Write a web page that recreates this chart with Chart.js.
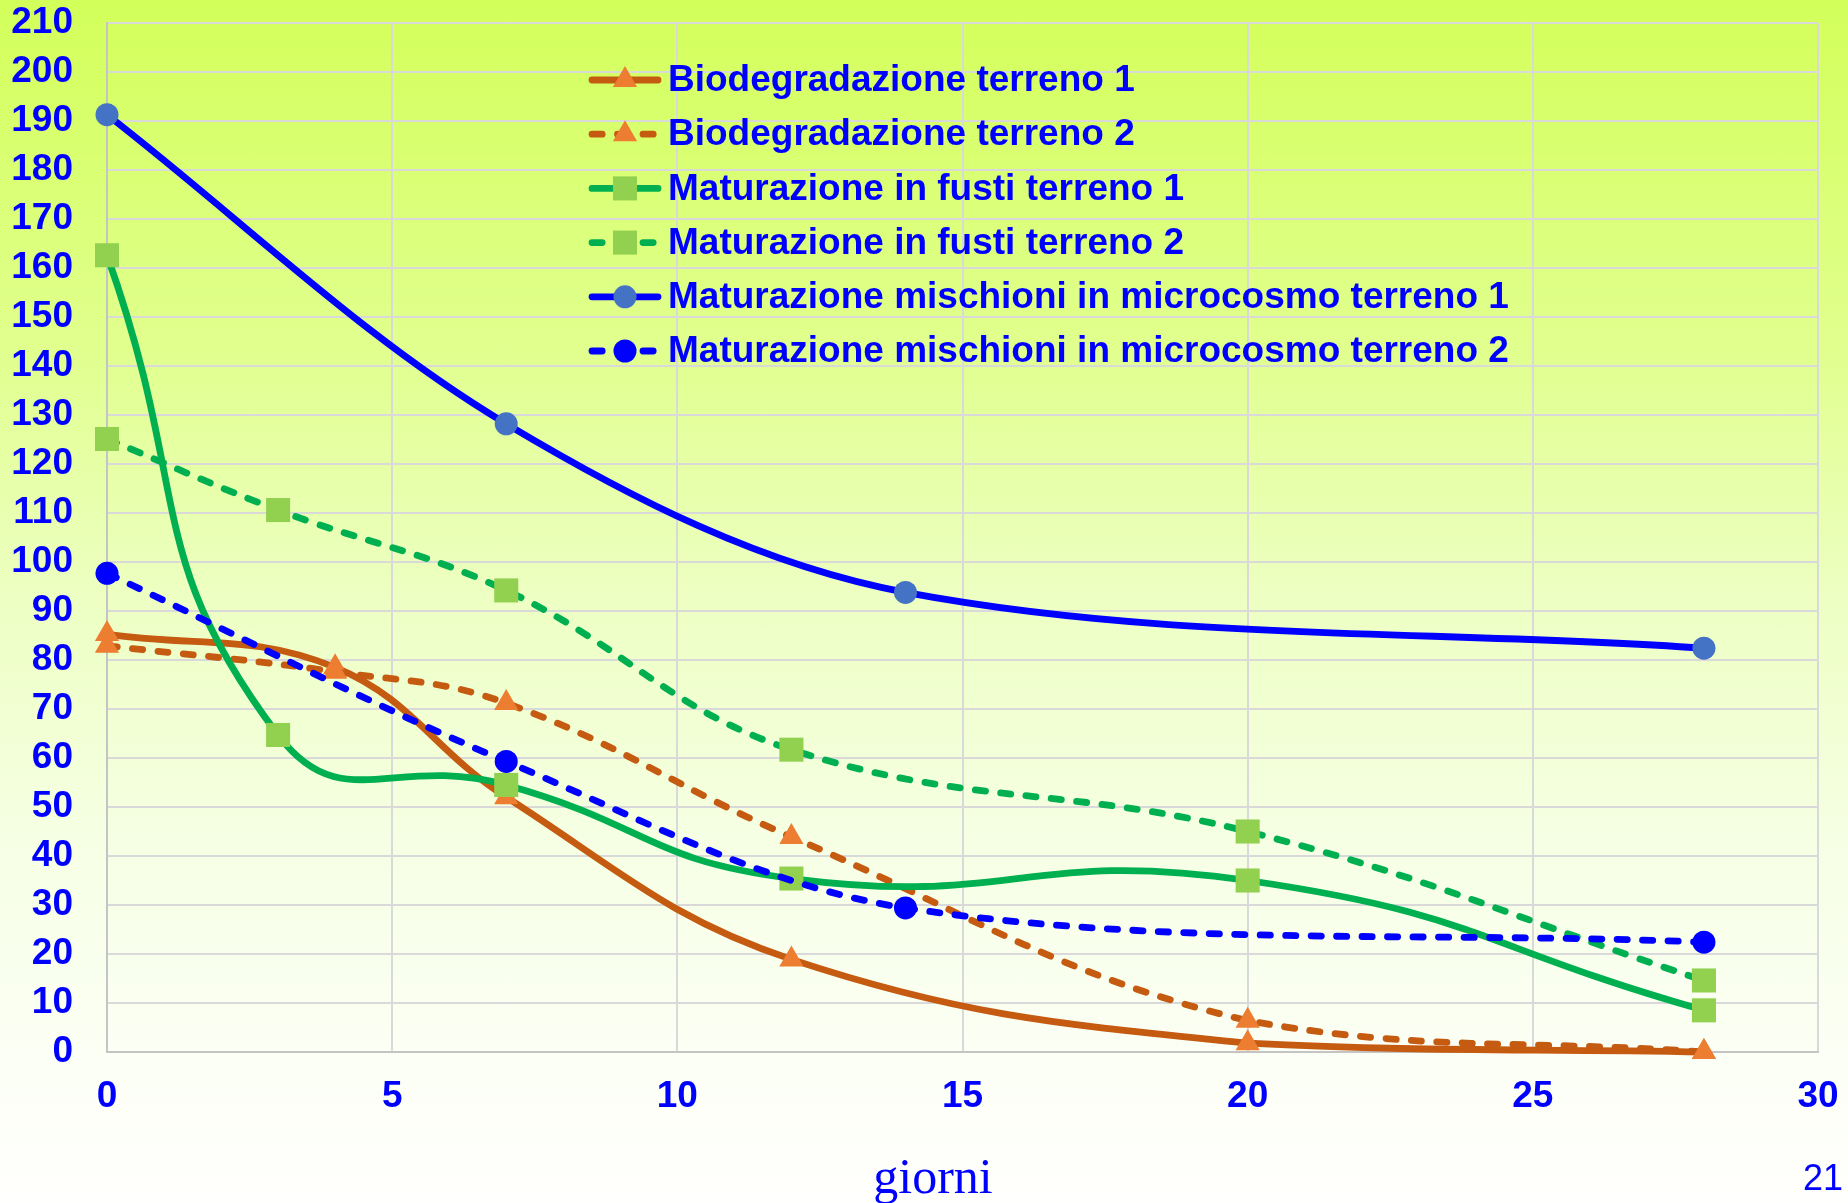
<!DOCTYPE html>
<html lang="it">
<head>
<meta charset="utf-8">
<title>Andamento nel tempo</title>
<script src="https://cdn.jsdelivr.net/npm/chart.js@4.4.1/dist/chart.umd.min.js"></script>
<style>
  html, body {
    margin: 0;
    padding: 0;
    width: 1848px;
    height: 1203px;
    overflow: hidden;
    background: linear-gradient(to bottom,
      #d3ff5a 0%, #e1ff90 30%, #edffc3 50%, #f6ffe4 70%, #fcfff5 88%, #fffffd 100%);
  }
  canvas { display: block; }
</style>
</head>
<body>
<canvas id="chart" width="1848" height="1203"></canvas>
<script>
// Sampling days of each experiment
const bioDays    = [0, 4, 7, 12, 20, 28];
const fustiDays  = [0, 3, 7, 12, 20, 28];
const microDays  = [0, 7, 14, 28];

// Measured values
const bio1   = [85.3, 78.5, 52.0, 18.9, 1.8, 0];
const bio2   = [82.9, 77.6, 71.2, 43.9, 6.4, 0];
const fusti1 = [162.6, 64.7, 54.5, 35.4, 35.0, 8.5];
const fusti2 = [125.1, 110.6, 94.2, 61.7, 45.0, 14.6];
const micro1 = [191.3, 128.2, 93.8, 82.4];
const micro2 = [97.7, 59.3, 29.4, 22.4];

// Series names
const seriesNames = [
  'Biodegradazione terreno 1',
  'Biodegradazione terreno 2',
  'Maturazione in fusti terreno 1',
  'Maturazione in fusti terreno 2',
  'Maturazione mischioni in microcosmo terreno 1',
  'Maturazione mischioni in microcosmo terreno 2'
];

// Axis ticks and labels
const xTicks = [0, 5, 10, 15, 20, 25, 30];
const yTicks = [0, 10, 20, 30, 40, 50, 60, 70, 80, 90, 100, 110, 120, 130, 140, 150, 160, 170, 180, 190, 200, 210];
const xAxisTitle = 'giorni';
const pageNumber = '21';

const pairs = (xs, ys) => xs.map((x, i) => ({ x: x, y: ys[i] }));

const DASH = [10.2, 15.3];
const LINE_W = 6.8;
const BLUE = '#0000FF';

function series(i, xs, ys, line, marker, style, radius, dashed, tension) {
  return {
    label: seriesNames[i],
    data: pairs(xs, ys),
    borderColor: line,
    borderWidth: LINE_W,
    borderDash: dashed ? DASH : [],
    borderCapStyle: 'round',
    borderJoinStyle: 'round',
    pointStyle: style,
    pointRadius: radius,
    pointHoverRadius: radius,
    pointBackgroundColor: marker,
    pointBorderColor: marker,
    pointBorderWidth: 0,
    tension: tension,
    fill: false,
    clip: false,
    order: 6 - i
  };
}

const datasets = [
  series(0, bioDays,   bio1,   '#C55A11', '#ED7D31', 'triangle', 14,   false, 0.40),
  series(1, bioDays,   bio2,   '#C55A11', '#ED7D31', 'triangle', 14,   true,  0.40),
  series(2, fustiDays, fusti1, '#00B050', '#92D050', 'rect',     17,   false, 0.50),
  series(3, fustiDays, fusti2, '#00B050', '#92D050', 'rect',     17,   true,  0.40),
  series(4, microDays, micro1, BLUE,      '#4472C4', 'circle',   11.5, false, 0.34),
  series(5, microDays, micro2, BLUE,      BLUE,      'circle',   11.5, true,  0.34)
];

// Key drawn inside the plot: line sample with marker, then the series name
const KEY = { x0: 592, x1: 658, textX: 668, top: 80, rowGap: 54.2 };

const seriesKey = {
  id: 'seriesKey',
  afterDraw(chart) {
    const ctx = chart.ctx;
    chart.data.datasets.forEach((ds, i) => {
      const cy = KEY.top + i * KEY.rowGap;
      ctx.save();
      ctx.strokeStyle = ds.borderColor;
      ctx.lineWidth = ds.borderWidth;
      ctx.lineCap = 'round';
      ctx.setLineDash(ds.borderDash);
      ctx.beginPath();
      ctx.moveTo(KEY.x0, cy);
      ctx.lineTo(KEY.x1, cy);
      ctx.stroke();
      ctx.setLineDash([]);
      ctx.fillStyle = ds.pointBackgroundColor;
      Chart.helpers.drawPoint(ctx, {
        pointStyle: ds.pointStyle, radius: ds.pointRadius, rotation: 0, borderWidth: 0
      }, (KEY.x0 + KEY.x1) / 2, cy);
      ctx.fillStyle = BLUE;
      ctx.font = 'bold 37px "Liberation Sans", Arial, sans-serif';
      ctx.textAlign = 'left';
      ctx.textBaseline = 'middle';
      ctx.fillText(ds.label, KEY.textX, cy + 1);
      ctx.restore();
    });
  }
};

// Axis caption and page number
const captions = {
  id: 'captions',
  afterDraw(chart) {
    const ctx = chart.ctx;
    ctx.save();
    ctx.fillStyle = BLUE;
    ctx.textBaseline = 'alphabetic';
    ctx.font = '50px "Liberation Serif", "Times New Roman", serif';
    ctx.textAlign = 'center';
    ctx.fillText(xAxisTitle, 933, 1193);
    ctx.font = '36px "Liberation Sans", Arial, sans-serif';
    ctx.textAlign = 'left';
    ctx.fillText(pageNumber, 1803, 1190);
    ctx.restore();
  }
};

const tickFont = { family: '"Liberation Sans", Arial, sans-serif', size: 37, weight: 'bold' };

new Chart(document.getElementById('chart'), {
  type: 'line',
  data: { datasets: datasets },
  options: {
    responsive: false,
    devicePixelRatio: 1,
    animation: false,
    events: [],
    layout: { padding: { top: 23, right: 30, bottom: 0, left: 0 } },
    plugins: {
      legend: { display: false },
      tooltip: { enabled: false }
    },
    scales: {
      x: {
        type: 'linear',
        min: 0,
        max: 30,
        afterBuildTicks: s => { s.ticks = xTicks.map(v => ({ value: v })); },
        afterFit: s => { s.height = 151; },
        grid: { color: '#D9D9D9', lineWidth: 2, drawTicks: true, tickLength: 23, tickColor: 'rgba(0,0,0,0)' },
        border: { color: '#C4C4C4', width: 2 },
        ticks: { padding: 0, color: BLUE, font: tickFont, maxRotation: 0, autoSkip: false }
      },
      y: {
        type: 'linear',
        min: 0,
        max: 210,
        afterBuildTicks: s => { s.ticks = yTicks.map(v => ({ value: v })); },
        afterFit: s => { s.width = 107; },
        grid: { color: '#D9D9D9', lineWidth: 2, drawTicks: true, tickLength: 34, tickColor: 'rgba(0,0,0,0)' },
        border: { color: '#C4C4C4', width: 2 },
        ticks: { padding: 0, color: BLUE, font: tickFont, autoSkip: false }
      }
    }
  },
  plugins: [seriesKey, captions]
});
</script>
</body>
</html>
